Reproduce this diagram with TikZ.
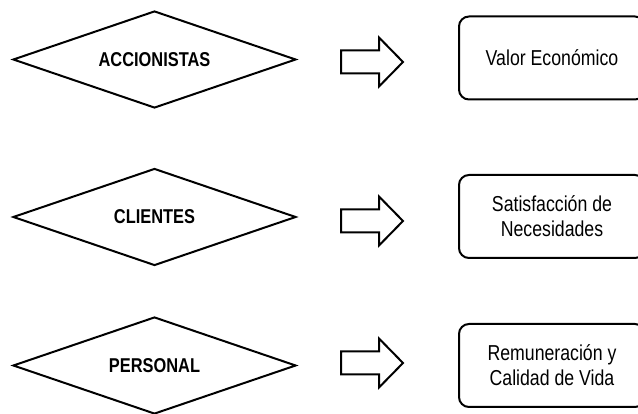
\documentclass[tikz,border=0pt]{standalone}
\usepackage{fontspec}
\setmainfont{Liberation Sans}
\newfontfamily\narrowfont[FakeStretch=0.82]{Liberation Sans}
\usetikzlibrary{shapes.geometric}
\begin{document}
\begin{tikzpicture}[x=1pt,y=-1pt,
  line width=2pt,
  choice/.style={diamond,draw,inner sep=0pt,aspect=2.92,minimum width=283pt,minimum height=97pt,
    font=\narrowfont\bfseries\fontsize{20}{22}\selectfont},
  result/.style={draw,rounded corners=10pt,minimum width=186pt,minimum height=83pt,
    align=center,font=\narrowfont\fontsize{21.6}{25}\selectfont},
  pics/blockarrow/.style={code={
    \draw[line join=miter]
      (-31,-11.5) -- (7,-11.5) -- (7,-24.5) -- (31,0) -- (7,24.5) -- (7,11.5) -- (-31,11.5) -- cycle;}}]
\useasboundingbox (0,0) rectangle (638,414);
\clip (0,0) rectangle (638,414);

% left column: stakeholder groups
\node[choice] (acc) at (154.5,59.5) {ACCIONISTAS};
\node[choice] (cli) at (154.5,217) {CLIENTES};
\node[choice] (per) at (154.5,365.5) {PERSONAL};

% block arrows
\pic (a1) at (372,62) {blockarrow};
\pic (a2) at (372,221) {blockarrow};
\pic (a3) at (372,363) {blockarrow};

% right column: what each group expects
\node[result] (valor) at (552,58) {Valor Económico};
\node[result] (sat) at (552,216.5) {Satisfacción de\\Necesidades};
\node[result] (rem) at (552,365.5) {Remuneración y\\Calidad de Vida};
\end{tikzpicture}
\end{document}
